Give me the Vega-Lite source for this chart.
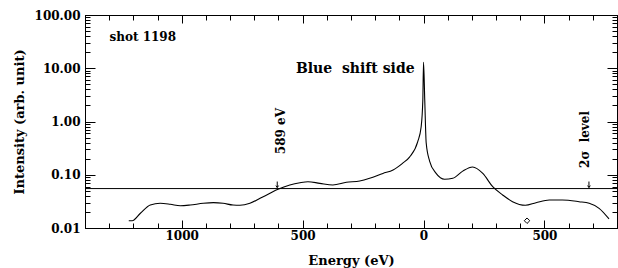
{
  "$schema": "https://vega.github.io/schema/vega-lite/v6.json",
  "width": 532,
  "height": 213,
  "autosize": {"type": "none"},
  "padding": {"left": 85, "top": 15, "right": 1, "bottom": 40},
  "background": "white",
  "config": {
    "view": {"stroke": "black", "strokeWidth": 1},
    "font": "DejaVu Serif",
    "axis": {
      "domainColor": "black",
      "tickColor": "black",
      "labelColor": "black",
      "titleColor": "black",
      "grid": false,
      "labelFont": "DejaVu Serif",
      "titleFont": "DejaVu Serif",
      "labelFontWeight": "bold",
      "titleFontWeight": "bold",
      "labelFontSize": 12,
      "titleFontSize": 13
    }
  },
  "datasets": {
    "curve": [
      {"E": -1219, "I": 0.0137}, {"E": -1205, "I": 0.0137}, {"E": -1171, "I": 0.0189},
      {"E": -1130, "I": 0.027}, {"E": -1089, "I": 0.0291}, {"E": -1047, "I": 0.0279},
      {"E": -1006, "I": 0.0262}, {"E": -965, "I": 0.027}, {"E": -911, "I": 0.0291},
      {"E": -869, "I": 0.0299}, {"E": -829, "I": 0.0291}, {"E": -788, "I": 0.027},
      {"E": -759, "I": 0.0267}, {"E": -718, "I": 0.0291}, {"E": -676, "I": 0.0361},
      {"E": -635, "I": 0.0449}, {"E": -602, "I": 0.0533}, {"E": -553, "I": 0.0643},
      {"E": -511, "I": 0.071}, {"E": -478, "I": 0.0741}, {"E": -429, "I": 0.069},
      {"E": -375, "I": 0.0643}, {"E": -319, "I": 0.0721}, {"E": -264, "I": 0.0764},
      {"E": -223, "I": 0.0858}, {"E": -168, "I": 0.106}, {"E": -126, "I": 0.123},
      {"E": -87, "I": 0.164}, {"E": -58, "I": 0.215}, {"E": -24, "I": 0.418},
      {"E": -10, "I": 0.789}, {"E": -3, "I": 2.5}, {"E": 0, "I": 13.0},
      {"E": 5, "I": 2.5}, {"E": 11, "I": 0.394}, {"E": 25, "I": 0.181},
      {"E": 52, "I": 0.106}, {"E": 87, "I": 0.0822}, {"E": 121, "I": 0.0858},
      {"E": 162, "I": 0.117}, {"E": 203, "I": 0.14}, {"E": 245, "I": 0.106},
      {"E": 286, "I": 0.0597}, {"E": 327, "I": 0.0417}, {"E": 368, "I": 0.0312},
      {"E": 421, "I": 0.0267}, {"E": 465, "I": 0.0299}, {"E": 520, "I": 0.0336},
      {"E": 574, "I": 0.0336}, {"E": 643, "I": 0.0312}, {"E": 685, "I": 0.0291},
      {"E": 726, "I": 0.0234}, {"E": 767, "I": 0.0148}
    ],
    "level": [{"I": 0.055}],
    "marker": [{"E": 428, "I": 0.0137}],
    "notes": [
      {"E": -1299, "I": 38.6, "text": "shot 1198"},
      {"E": -37, "I": 9.8, "text": "Blue\u00a0 shift side"}
    ],
    "vnotes": [
      {"E": -590, "I": 0.66, "text": "589 eV"},
      {"E": 666, "I": 0.46, "text": "2σ\u00a0 level"}
    ],
    "arrows": [
      {"E": -605, "I": 0.0655},
      {"E": 684, "I": 0.0655}
    ]
  },
  "layer": [
    {
      "data": {"name": "curve"},
      "mark": {"type": "line", "color": "black", "strokeWidth": 1.1, "interpolate": "monotone"},
      "encoding": {
        "x": {
          "field": "E", "type": "quantitative",
          "scale": {"domain": [-1400, 800], "nice": false, "zero": false},
          "axis": {
            "orient": "bottom",
            "title": "Energy (eV)",
            "values": [-1400, -1300, -1200, -1100, -1000, -900, -800, -700, -600, -500, -400, -300, -200, -100, 0, 100, 200, 300, 400, 500, 600, 700, 800],
            "labelExpr": "datum.value % 500 === 0 ? format(abs(datum.value), 'd') : ''",
            "tickSize": {"condition": {"test": "datum.value % 500 === 0", "value": -8}, "value": -5},
            "labelPadding": 10,
            "titlePadding": 13,
            "labelFlush": false
          }
        },
        "y": {
          "field": "I", "type": "quantitative",
          "scale": {"type": "log", "domain": [0.01, 100], "nice": false},
          "axis": {
            "orient": "left",
            "title": "Intensity (arb. unit)",
            "values": [0.01, 0.02, 0.03, 0.04, 0.05, 0.06, 0.07, 0.08, 0.09, 0.1, 0.2, 0.3, 0.4, 0.5, 0.6, 0.7, 0.8, 0.9, 1, 2, 3, 4, 5, 6, 7, 8, 9, 10, 20, 30, 40, 50, 60, 70, 80, 90, 100],
            "labelExpr": "indexof([0.01, 0.1, 1, 10, 100], datum.value) >= 0 ? format(datum.value, '.2f') : ''",
            "tickSize": {"condition": {"test": "indexof([0.01, 0.1, 1, 10, 100], datum.value) >= 0", "value": -10}, "value": -5},
            "labelPadding": 15,
            "titlePadding": 8,
            "labelFlush": false
          }
        }
      }
    },
    {
      "data": {"name": "level"},
      "mark": {"type": "rule", "color": "black", "strokeWidth": 1},
      "encoding": {
        "y": {"field": "I", "type": "quantitative", "scale": {"type": "log", "domain": [0.01, 100], "nice": false}, "axis": null}
      }
    },
    {
      "data": {"name": "marker"},
      "mark": {"type": "point", "shape": "diamond", "filled": false, "color": "black", "size": 30, "strokeWidth": 1, "opacity": 1},
      "encoding": {
        "x": {
          "field": "E", "type": "quantitative",
          "scale": {"domain": [-1400, 800], "nice": false, "zero": false},
          "axis": {
            "orient": "top", "title": null, "labels": false,
            "values": [-1400, -1300, -1200, -1100, -1000, -900, -800, -700, -600, -500, -400, -300, -200, -100, 0, 100, 200, 300, 400, 500, 600, 700, 800],
            "tickSize": {"condition": {"test": "datum.value % 500 === 0", "value": -8}, "value": -5}
          }
        },
        "y": {
          "field": "I", "type": "quantitative",
          "scale": {"type": "log", "domain": [0.01, 100], "nice": false},
          "axis": {
            "orient": "right", "title": null, "labels": false,
            "values": [0.01, 0.02, 0.03, 0.04, 0.05, 0.06, 0.07, 0.08, 0.09, 0.1, 0.2, 0.3, 0.4, 0.5, 0.6, 0.7, 0.8, 0.9, 1, 2, 3, 4, 5, 6, 7, 8, 9, 10, 20, 30, 40, 50, 60, 70, 80, 90, 100],
            "tickSize": {"condition": {"test": "indexof([0.01, 0.1, 1, 10, 100], datum.value) >= 0", "value": -10}, "value": -5}
          }
        }
      }
    },
    {
      "data": {"name": "notes"},
      "mark": {"type": "text", "font": "DejaVu Serif", "fontWeight": "bold", "fontSize": {"expr": "datum.E > -100 ? 14 : 12"}, "color": "black", "align": {"expr": "datum.E > -100 ? 'right' : 'left'"}, "baseline": "middle"},
      "encoding": {
        "x": {"field": "E", "type": "quantitative", "scale": {"domain": [-1400, 800], "nice": false, "zero": false}, "axis": null},
        "y": {"field": "I", "type": "quantitative", "scale": {"type": "log", "domain": [0.01, 100], "nice": false}, "axis": null},
        "text": {"field": "text"}
      }
    },
    {
      "data": {"name": "vnotes"},
      "mark": {"type": "text", "font": "DejaVu Serif", "fontWeight": "bold", "fontSize": 12, "color": "black", "angle": 270, "align": "center", "baseline": "middle"},
      "encoding": {
        "x": {"field": "E", "type": "quantitative", "scale": {"domain": [-1400, 800], "nice": false, "zero": false}, "axis": null},
        "y": {"field": "I", "type": "quantitative", "scale": {"type": "log", "domain": [0.01, 100], "nice": false}, "axis": null},
        "text": {"field": "text"}
      }
    },
    {
      "data": {"name": "arrows"},
      "mark": {"type": "point", "shape": "M0,-1L0,1M-0.45,0.35L0,1L0.45,0.35", "filled": false, "color": "black", "size": 36, "strokeWidth": 1, "opacity": 1},
      "encoding": {
        "x": {"field": "E", "type": "quantitative", "scale": {"domain": [-1400, 800], "nice": false, "zero": false}, "axis": null},
        "y": {"field": "I", "type": "quantitative", "scale": {"type": "log", "domain": [0.01, 100], "nice": false}, "axis": null}
      }
    }
  ],
  "resolve": {"axis": {"x": "independent", "y": "independent"}}
}
